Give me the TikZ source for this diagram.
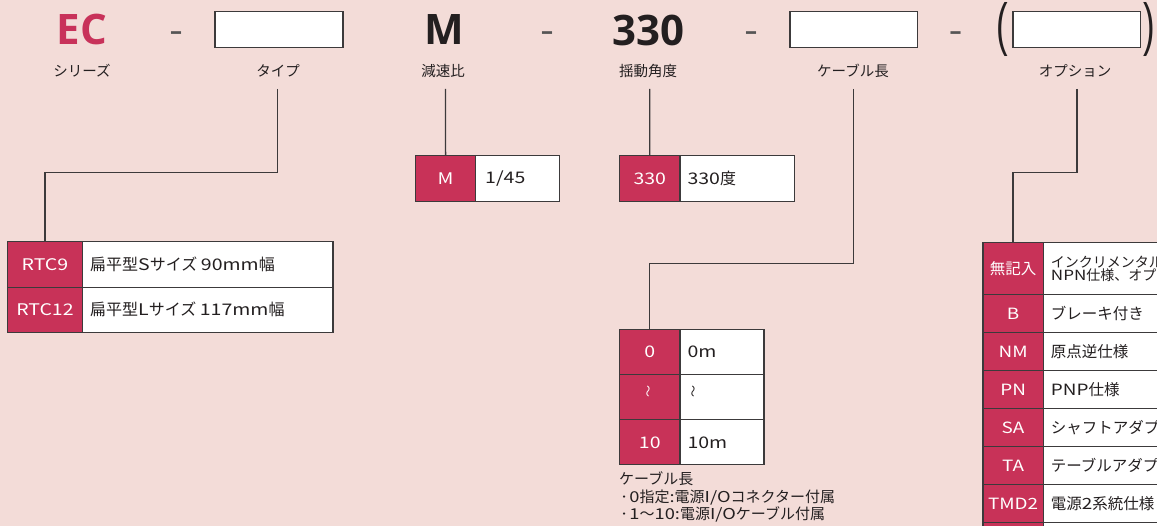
\documentclass[tikz,border=0pt]{standalone}
\usepackage{fontspec}
\setmainfont{Noto Sans CJK JP}
\newfontfamily\latf{Noto Sans CJK JP}[FakeStretch=1.22]
\newfontfamily\headf{Open Sans}
\newfontfamily\parenf{Liberation Sans}[FakeStretch=0.6]
\newcommand\lt[1]{{\latf #1}}
\definecolor{bg}{HTML}{F3DCD8}
\definecolor{ecred}{HTML}{C8325A}
\definecolor{cellred}{HTML}{C83258}
\definecolor{ink}{HTML}{231F20}
\definecolor{rulec}{HTML}{3C3A3B}
\definecolor{dashc}{HTML}{555555}
\begin{document}
\begin{tikzpicture}[x=1pt,y=-1pt,
  big/.style={font=\headf\bfseries\fontsize{42}{42}\selectfont, text=ink, inner sep=0pt},
  dashtxt/.style={font=\headf\bfseries\fontsize{24}{24}\selectfont, text=dashc, inner sep=0pt, anchor=base},
  parentxt/.style={font=\parenf\fontsize{58}{58}\selectfont, text=ink, inner sep=0pt},
  slot/.style={draw=rulec, fill=white, line width=1.2pt, inner sep=0pt, anchor=north west},
  lbl/.style={font=\fontsize{14.5}{16}\selectfont, text=ink, inner sep=0pt},
  conn/.style={draw=rulec, line width=1.3pt},
  codecell/.style={draw=rulec, fill=cellred, line width=1.2pt, inner sep=0pt, anchor=north west, text=white, font=\fontsize{16}{18}\selectfont},
  desccell/.style={draw=rulec, fill=white, line width=1.2pt, inner sep=0pt, anchor=north west},
  dtext/.style={font=\fontsize{16}{18}\selectfont, text=ink, inner sep=0pt, anchor=west, align=left},
  otext/.style={font=\fontsize{15.5}{17}\selectfont, text=ink, inner sep=0pt, anchor=west, align=left},
  ocode/.style={codecell, font=\fontsize{15.5}{17}\selectfont},
  wave/.style={rotate=90, font=\fontsize{12}{12}\selectfont, inner sep=0pt},
  note/.style={font=\fontsize{15}{17.5}\selectfont, text=ink, inner sep=0pt, anchor=west, align=left}
]
\useasboundingbox (0,0) rectangle (1157,526);
\clip (0,0) rectangle (1157,526);
\fill[bg] (0,0) rectangle (1157,526);

% ---------- header ----------
\node[big, text=ecred] (ec) at (82,30) {EC};
\node[dashtxt] (d1) at (176,40) {–};
\node[slot, minimum width=128pt, minimum height=36.6pt] (tbox) at (214.3,10.7) {};
\node[big] (mm) at (444,30) {M};
\node[dashtxt] (d2) at (547,40) {–};
\node[big] (n330) at (648.7,30) {330};
\node[dashtxt] (d3) at (751,40) {–};
\node[slot, minimum width=127.4pt, minimum height=36.6pt] (cbox) at (789.3,10.7) {};
\node[dashtxt] (d4) at (955.5,40) {–};
\node[parentxt] (lp) at (1002.5,29) {(};
\node[slot, minimum width=127.7pt, minimum height=36.6pt] (obox) at (1012.3,10.7) {};
\node[parentxt] (rp) at (1149,29) {)};

\node[lbl] (l1) at (82,71) {シリーズ};
\node[lbl] (l2) at (278,71) {タイプ};
\node[lbl] (l3) at (443,71) {減速比};
\node[lbl] (l4) at (648,71) {揺動角度};
\node[lbl] (l5) at (853,71) {ケーブル長};
\node[lbl] (l6) at (1075,71) {オプション};

\coordinate (c2) at (277.5,89);
\coordinate (c3) at (445.5,89);
\coordinate (c4) at (649.7,89);
\coordinate (c5) at (853.8,89);
\coordinate (c6) at (1077,89);

% ---------- type table ----------
\node[codecell, minimum width=75.3pt, minimum height=45.4pt] (t1c) at (6.7,241.3) {\lt{RTC9}};
\node[desccell, minimum width=250.3pt, minimum height=45.4pt] (t1d) at (82,241.3) {};
\node[dtext] (t1t) at ([xshift=8pt]t1d.west) {扁平型\lt{S}サイズ \lt{90mm}幅};
\node[codecell, minimum width=75.3pt, minimum height=45pt] (t2c) at (6.7,286.7) {\lt{RTC12}};
\node[desccell, minimum width=250.3pt, minimum height=45pt] (t2d) at (82,286.7) {};
\node[dtext] (t2t) at ([xshift=8pt]t2d.west) {扁平型\lt{L}サイズ \lt{117mm}幅};

% ---------- ratio table ----------
\node[codecell, minimum width=60pt, minimum height=46pt] (mc) at (415,155) {\lt{M}};
\node[desccell, minimum width=84pt, minimum height=46pt] (md) at (475,155) {};
\node[dtext] (mt) at ([xshift=10pt]md.west) {\lt{1/45}};

% ---------- angle table ----------
\node[codecell, minimum width=60.3pt, minimum height=46pt] (ac) at (619,155) {\lt{330}};
\node[desccell, minimum width=114.7pt, minimum height=46pt] (ad) at (679.3,155) {};
\node[dtext] (at) at ([xshift=8pt]ad.west) {\lt{330}度};

% ---------- cable table ----------
\node[codecell, minimum width=60.3pt, minimum height=45pt] (k1c) at (619,329) {\lt{0}};
\node[desccell, minimum width=84pt, minimum height=45pt] (k1d) at (679.3,329) {};
\node[dtext] (k1t) at ([xshift=8pt]k1d.west) {\lt{0m}};
\node[codecell, minimum width=60.3pt, minimum height=45.3pt] (k2c) at (619,374) {};
\node[desccell, minimum width=84pt, minimum height=45.3pt] (k2d) at (679.3,374) {};
\node[wave, text=white] (k2ct) at (649.5,392) {〜};
\node[wave, text=ink] (k2t) at (694.5,392) {〜};
\node[codecell, minimum width=60.3pt, minimum height=45pt] (k3c) at (619,419.3) {\lt{10}};
\node[desccell, minimum width=84pt, minimum height=45pt] (k3d) at (679.3,419.3) {};
\node[dtext] (k3t) at ([xshift=8pt]k3d.west) {\lt{10m}};
\node[note] (kn) at (619,497) {ケーブル長\\\lt{·0}指定\lt{:}電源\lt{I/O}コネクター付属\\\lt{·1}〜\lt{10:}電源\lt{I/O}ケーブル付属};

% ---------- option table ----------
\node[ocode, minimum width=60.4pt, minimum height=52.6pt] (o1c) at (982.3,241.7) {無記入};
\node[desccell, minimum width=300pt, minimum height=52.6pt] (o1d) at (1042.7,241.7) {};
\node[font=\fontsize{14}{13.5}\selectfont, text=ink, inner sep=0pt, anchor=west, align=left] (o1t) at ([xshift=8pt]o1d.west) {インクリメンタルエンコーダ\\\lt{NPN}仕様、オプション無し};
\node[ocode, minimum width=60.4pt, minimum height=38pt] (o2c) at (982.3,294.3) {\lt{B}};
\node[desccell, minimum width=300pt, minimum height=38pt] (o2d) at (1042.7,294.3) {};
\node[otext] (o2t) at ([xshift=8pt]o2d.west) {ブレーキ付き};
\node[ocode, minimum width=60.4pt, minimum height=38pt] (o3c) at (982.3,332.3) {\lt{NM}};
\node[desccell, minimum width=300pt, minimum height=38pt] (o3d) at (1042.7,332.3) {};
\node[otext] (o3t) at ([xshift=8pt]o3d.west) {原点逆仕様};
\node[ocode, minimum width=60.4pt, minimum height=38pt] (o4c) at (982.3,370.3) {\lt{PN}};
\node[desccell, minimum width=300pt, minimum height=38pt] (o4d) at (1042.7,370.3) {};
\node[otext] (o4t) at ([xshift=8pt]o4d.west) {\lt{PNP}仕様};
\node[ocode, minimum width=60.4pt, minimum height=37.7pt] (o5c) at (982.3,408.3) {\lt{SA}};
\node[desccell, minimum width=300pt, minimum height=37.7pt] (o5d) at (1042.7,408.3) {};
\node[otext] (o5t) at ([xshift=8pt]o5d.west) {シャフトアダプター};
\node[ocode, minimum width=60.4pt, minimum height=38pt] (o6c) at (982.3,446) {\lt{TA}};
\node[desccell, minimum width=300pt, minimum height=38pt] (o6d) at (1042.7,446) {};
\node[otext] (o6t) at ([xshift=8pt]o6d.west) {テーブルアダプター};
\node[ocode, minimum width=60.4pt, minimum height=37.7pt] (o7c) at (982.3,484) {\lt{TMD2}};
\node[desccell, minimum width=300pt, minimum height=37.7pt] (o7d) at (1042.7,484) {};
\node[otext] (o7t) at ([xshift=8pt]o7d.west) {電源\lt{2}系統仕様};
\node[ocode, minimum width=60.4pt, minimum height=40pt] (o8c) at (982.3,521.7) {};
\node[desccell, minimum width=300pt, minimum height=40pt] (o8d) at (1042.7,521.7) {};

% ---------- connectors ----------
\draw[conn] (c2) -- ++(0,83.7) -| (t1c.north);
\draw[conn] (c3) -- (mc.north);
\draw[conn] (c4) -- (ac.north);
\draw[conn] (c5) -- ++(0,174.3) -| (k1c.north);
\draw[conn] (c6) -- ++(0,83.7) -| (o1c.north);
\end{tikzpicture}
\end{document}
